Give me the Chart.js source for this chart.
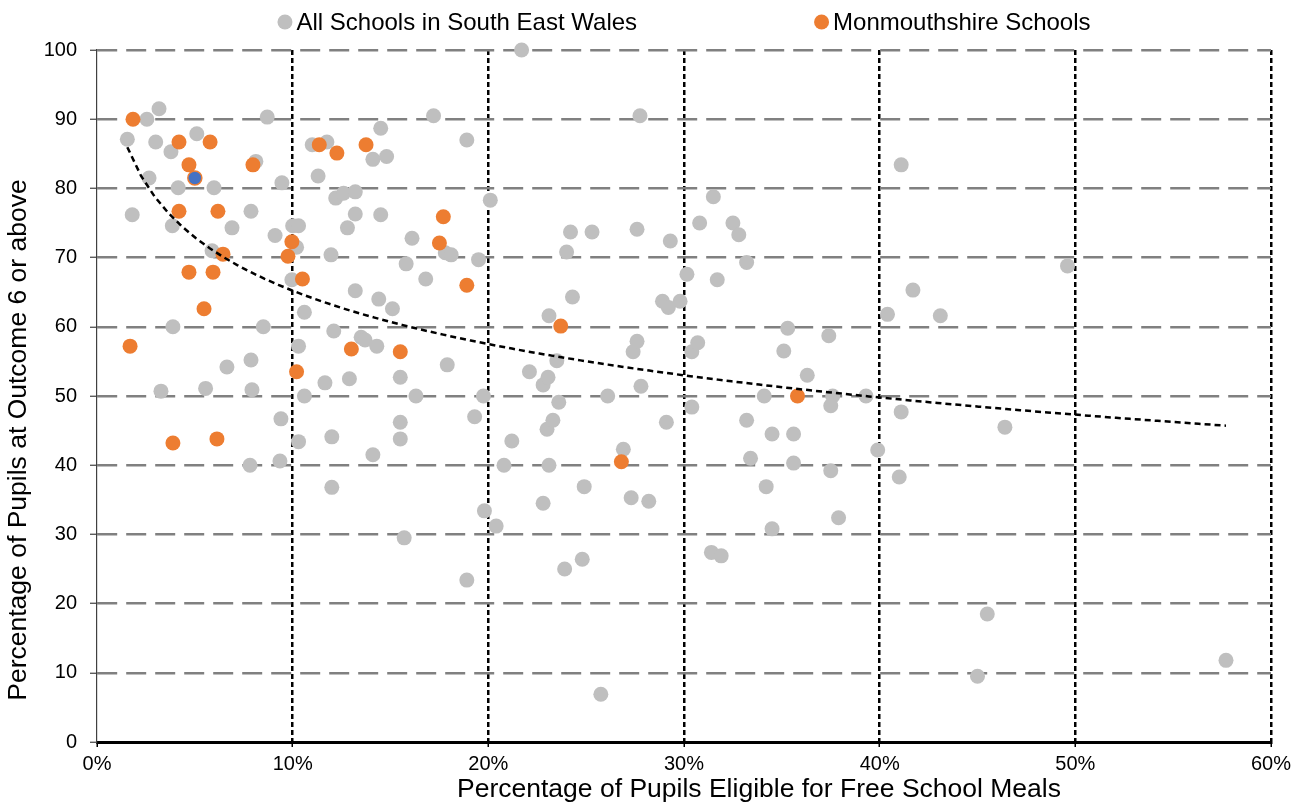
<!DOCTYPE html>
<html>
<head>
<meta charset="utf-8">
<title>Outcome 6 vs Free School Meals</title>
<script src="https://cdn.jsdelivr.net/npm/chart.js@4.4.0/dist/chart.umd.min.js"></script>
<style>
  html, body { margin: 0; padding: 0; background: #fff; }
  #wrap { width: 1311px; height: 807px; }
</style>
</head>
<body>
<div id="wrap"><canvas id="fsmChart" width="1311" height="807"></canvas></div>
<script>
// % eligible for free school meals (x) and % at Outcome 6 or above (y)
const allSchoolsFsm = [
  1.55, 1.8, 2.55, 2.66, 3.0, 3.17, 3.27, 3.78, 3.85, 3.88, 4.15, 5.1, 5.55, 5.88, 5.98, 6.64, 6.9, 7.87, 7.87, 7.92,
  7.82, 8.12, 8.5, 8.7, 9.1, 9.45, 9.4, 9.35, 10.0, 10.3, 10.2, 9.96, 10.3, 10.3, 10.6, 10.6, 11.0, 11.75, 11.3, 11.65,
  11.96, 12.0, 12.0, 12.1, 12.2, 12.6, 12.8, 12.9, 13.2, 13.2, 13.2, 13.5, 13.7, 14.1, 14.3, 14.1, 14.5, 14.5, 14.4, 14.8,
  15.1, 15.5, 15.5, 15.5, 15.7, 15.8, 16.1, 16.3, 16.8, 17.2, 17.8, 17.9, 18.1, 18.9, 18.9, 19.3, 19.5, 19.75, 19.8, 20.1,
  20.4, 20.8, 21.2, 21.7, 22.1, 22.8, 23.05, 22.8, 23.1, 23.0, 23.1, 23.3, 23.5, 23.6, 23.9, 24.0, 24.2, 24.3, 24.9, 24.8,
  25.3, 25.75, 26.1, 26.9, 27.3, 27.4, 27.6, 27.6, 27.75, 27.8, 28.2, 28.9, 29.2, 29.1, 29.3, 29.8, 30.15, 30.4, 30.4, 30.7,
  30.8, 31.4, 31.5, 31.7, 31.9, 32.5, 32.8, 33.2, 33.2, 33.4, 34.1, 34.2, 34.5, 34.5, 35.1, 35.3, 35.6, 35.6, 36.3, 37.4,
  37.6, 37.5, 37.5, 37.9, 39.3, 39.9, 40.4, 41.1, 41.0, 41.1, 41.7, 43.1, 45.0, 45.5, 46.4, 49.6, 57.7
];
const allSchoolsOutcome = [
  87.1, 76.2, 90.0, 81.5, 86.7, 91.5, 50.7, 85.3, 74.6, 60.0, 80.1, 87.9, 51.1, 71.0, 80.1, 54.2, 74.3, 76.7, 55.2, 50.9,
  40.0, 83.9, 60.0, 90.3, 73.2, 80.8, 46.7, 40.6, 74.6, 74.6, 71.5, 66.8, 57.2, 43.4, 50.0, 62.1, 86.3, 86.7, 81.8, 51.9,
  70.4, 44.1, 36.8, 59.4, 78.6, 79.3, 74.3, 52.5, 79.5, 76.3, 65.2, 58.5, 58.1, 84.2, 57.2, 41.5, 88.7, 76.2, 64.0, 84.6,
  62.6, 52.7, 46.2, 43.8, 29.5, 69.1, 72.8, 50.0, 66.9, 90.5, 70.7, 54.5, 70.4, 87.0, 23.4, 47.0, 69.7, 50.0, 33.4, 78.3,
  31.2, 40.0, 43.5, 100.0, 53.5, 51.6, 52.7, 34.5, 61.6, 45.2, 40.0, 46.5, 55.1, 49.1, 25.0, 70.8, 73.7, 64.3, 36.9, 26.4,
  73.7, 6.9, 50.0, 42.3, 35.3, 56.4, 57.9, 74.1, 90.5, 51.4, 34.8, 63.7, 62.8, 46.2, 72.4, 63.7, 67.6, 56.4, 48.4, 57.7,
  75.0, 27.4, 78.8, 66.8, 26.9, 75.0, 73.3, 69.3, 46.5, 41.0, 50.0, 36.9, 30.8, 44.5, 56.5, 59.8, 44.5, 40.3, 53.0, 58.7,
  50.0, 48.6, 39.2, 32.4, 50.0, 42.2, 61.8, 47.7, 38.3, 83.4, 65.3, 61.6, 9.5, 18.5, 45.5, 68.8, 11.8
];
const monSchoolsFsm = [
  1.84, 1.69, 3.88, 4.19, 4.19, 4.7, 4.7, 5.47, 5.78, 5.93, 6.13, 6.18, 6.44, 7.97, 9.76, 9.96, 10.2, 10.5, 11.36, 12.26,
  13.0, 13.75, 15.5, 17.5, 17.7, 18.9, 23.7, 26.8, 35.8
];
const monSchoolsOutcome = [
  90.0, 57.2, 43.2, 86.7, 76.7, 83.4, 67.9, 62.6, 86.7, 67.9, 43.8, 76.7, 70.5, 83.4, 70.2, 72.3, 53.5, 66.9, 86.3, 85.1,
  56.8, 86.3, 56.4, 72.1, 75.9, 66.0, 60.1, 40.5, 50.0
];
// one Monmouthshire school picked out in blue
const highlightFsm = [5.0];
const highlightOutcome = [81.5];

const xTicks = [0, 10, 20, 30, 40, 50, 60];
const yTicks = [0, 10, 20, 30, 40, 50, 60, 70, 80, 90, 100];

const FONT = '"Liberation Sans", Arial, sans-serif';

const toPoints = (xs, ys) => xs.map((x, i) => ({ x, y: ys[i] }));

// logarithmic trendline over all schools (least squares on ln x), as the spreadsheet does
const trendPoints = (() => {
  const xs = allSchoolsFsm.concat(monSchoolsFsm, highlightFsm);
  const ys = allSchoolsOutcome.concat(monSchoolsOutcome, highlightOutcome);
  let sx = 0, sy = 0, sxx = 0, sxy = 0;
  xs.forEach((x, i) => {
    const lx = Math.log(x);
    sx += lx; sy += ys[i]; sxx += lx * lx; sxy += lx * ys[i];
  });
  const n = xs.length;
  const b = (n * sxy - sx * sy) / (n * sxx - sx * sx);
  const a = (sy - b * sx) / n;
  const lo = Math.min(...allSchoolsFsm), hi = Math.max(...allSchoolsFsm);
  const pts = [];
  for (let i = 0; i <= 80; i++) {
    const x = lo + (hi - lo) * i / 80;
    pts.push({ x, y: a + b * Math.log(x) });
  }
  return pts;
})();

const topLegend = {
  id: 'topLegend',
  afterDraw(chart) {
    const { ctx, chartArea } = chart;
    const items = chart.data.datasets.filter(d => d.inLegend);
    const r = 7.5, textGap = 4, itemGap = 177, y = 22;
    ctx.save();
    ctx.font = '24px ' + FONT;
    ctx.textBaseline = 'middle';
    const widths = items.map(d => 2 * r + textGap + ctx.measureText(d.label).width);
    const total = widths.reduce((s, w) => s + w, 0) + itemGap * (items.length - 1);
    let x = (chartArea.left + chartArea.right) / 2 - total / 2;
    items.forEach((d, i) => {
      ctx.fillStyle = d.backgroundColor;
      ctx.beginPath();
      ctx.arc(x + r, y, r, 0, Math.PI * 2);
      ctx.fill();
      ctx.fillStyle = '#000';
      ctx.fillText(d.label, x + 2 * r + textGap, y + 1);
      x += widths[i] + itemGap;
    });
    ctx.restore();
  }
};

const axisTitles = {
  id: 'axisTitles',
  afterDraw(chart) {
    const ctx = chart.ctx;
    ctx.save();
    ctx.font = '26.5px ' + FONT;
    ctx.fillStyle = '#000';
    ctx.textAlign = 'center';
    ctx.textBaseline = 'middle';
    ctx.fillText('Percentage of Pupils Eligible for Free School Meals', 759, 790);
    ctx.translate(19, 440);
    ctx.rotate(-Math.PI / 2);
    ctx.fillText('Percentage of Pupils at Outcome 6 or above', 0, 0);
    ctx.restore();
  }
};

const ctx = document.getElementById('fsmChart').getContext('2d');
new Chart(ctx, {
  type: 'scatter',
  data: {
    datasets: [
      {
        label: 'All Schools in South East Wales',
        data: toPoints(allSchoolsFsm, allSchoolsOutcome),
        backgroundColor: '#BFBFBF',
        pointRadius: 7.5,
        borderWidth: 0,
        clip: false,
        order: 3,
        inLegend: true
      },
      {
        label: 'Monmouthshire Schools',
        data: toPoints(monSchoolsFsm, monSchoolsOutcome),
        backgroundColor: '#ED7D31',
        pointRadius: 7.5,
        borderWidth: 0,
        clip: false,
        order: 2,
        inLegend: true
      },
      {
        label: 'Selected school',
        data: toPoints(highlightFsm, highlightOutcome),
        backgroundColor: '#4472C4',
        borderColor: '#ED7D31',
        borderWidth: 1.5,
        pointRadius: 7,
        clip: false,
        order: 1
      },
      {
        type: 'line',
        label: 'Log trend',
        data: trendPoints,
        borderColor: '#000',
        borderWidth: 2.5,
        borderDash: [6, 4],
        pointRadius: 0,
        fill: false,
        order: 0
      }
    ]
  },
  options: {
    responsive: false,
    animation: false,
    devicePixelRatio: 1,
    layout: { padding: { top: 50, right: 40, left: 0, bottom: 0 } },
    plugins: {
      legend: { display: false },
      tooltip: { enabled: false }
    },
    scales: {
      x: {
        type: 'linear',
        min: 0,
        max: 60,
        afterBuildTicks: s => { s.ticks = xTicks.map(v => ({ value: v })); },
        afterFit: s => { s.height = 65; },
        ticks: {
          font: { family: FONT, size: 20 },
          color: '#000',
          padding: 5,
          maxRotation: 0,
          callback: v => v + '%'
        },
        grid: {
          color: c => (c.tick && c.tick.value === 0 ? 'rgba(0,0,0,0)' : '#000'),
          lineWidth: 2.5,
          tickLength: 5,
          tickColor: '#000',
          tickWidth: 1.5
        },
        border: { display: true, color: '#000', width: 3, dash: [5, 3] }
      },
      y: {
        type: 'linear',
        min: 0,
        max: 100,
        afterBuildTicks: s => { s.ticks = yTicks.map(v => ({ value: v })); },
        afterFit: s => { s.width = 97; },
        ticks: {
          font: { family: FONT, size: 20 },
          color: '#000',
          padding: 13
        },
        grid: {
          color: c => (c.tick && c.tick.value === 0 ? 'rgba(0,0,0,0)' : '#808080'),
          lineWidth: 2.5,
          tickLength: 7,
          tickColor: '#404040',
          tickWidth: 1.2
        },
        border: { display: true, color: '#404040', width: 1.2, dash: [20, 9] }
      }
    }
  },
  plugins: [topLegend, axisTitles]
});
</script>
</body>
</html>
